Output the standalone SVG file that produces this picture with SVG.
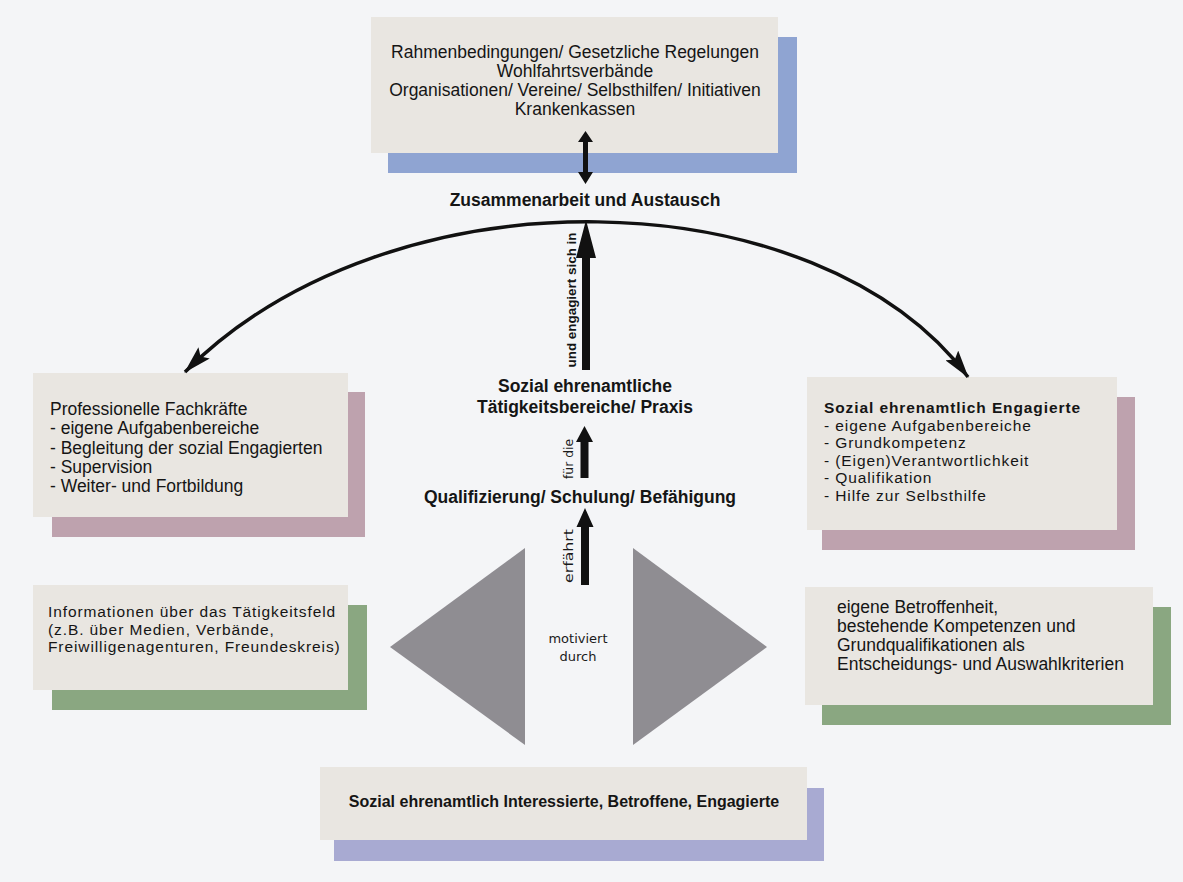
<svg xmlns="http://www.w3.org/2000/svg" width="1183" height="882" viewBox="0 0 1183 882">
<style>
.box{fill:#e9e6e1}
.t{font-family:"Liberation Sans",Arial,sans-serif;font-size:17.5px;fill:#151515}
.s{font-size:15.5px;letter-spacing:0.9px}
.b{font-weight:bold}
.c{text-anchor:middle}
.h{font-family:"DejaVu Sans","Liberation Sans",sans-serif;font-size:13px;fill:#1a1a1a}
.ar{fill:#111}
</style>
<defs>
<marker id="ah" viewBox="0 0 28 16" refX="27" refY="8" markerWidth="28" markerHeight="16" markerUnits="userSpaceOnUse" orient="auto-start-reverse">
<path d="M0,0 L28,8 L0,16 L5,8 Z" fill="#111"/>
</marker>
</defs>
<rect width="1183" height="882" fill="#f4f5f7"/>

<g id="top">
<rect x="388" y="37" width="409" height="136" fill="#8fa4d2"/>
<rect class="box" x="371" y="17" width="407" height="136"/>
<text class="t c" x="575" y="57.5">Rahmenbedingungen/ Gesetzliche Regelungen</text>
<text class="t c" x="575" y="76.5">Wohlfahrtsverbände</text>
<text class="t c" x="575" y="96">Organisationen/ Vereine/ Selbsthilfen/ Initiativen</text>
<text class="t c" x="575" y="115">Krankenkassen</text>
</g>

<g id="prof">
<rect x="52" y="392" width="313" height="145" fill="#bea2ae"/>
<rect class="box" x="33" y="373" width="315" height="144"/>
<text class="t" x="50" y="415">Professionelle Fachkräfte</text>
<text class="t" x="50" y="434.3">- eigene Aufgabenbereiche</text>
<text class="t" x="50" y="453.6">- Begleitung der sozial Engagierten</text>
<text class="t" x="50" y="473">- Supervision</text>
<text class="t" x="50" y="492.3">- Weiter- und Fortbildung</text>
</g>

<g id="engagierte">
<rect x="822" y="397" width="313" height="153" fill="#bea2ae"/>
<rect class="box" x="807" y="377" width="310" height="153"/>
<text class="t s b" x="824" y="413">Sozial ehrenamtlich Engagierte</text>
<text class="t s" x="824" y="430.5">- eigene Aufgabenbereiche</text>
<text class="t s" x="824" y="448">- Grundkompetenz</text>
<text class="t s" x="824" y="465.5">- (Eigen)Verantwortlichkeit</text>
<text class="t s" x="824" y="483">- Qualifikation</text>
<text class="t s" x="824" y="500.5">- Hilfe zur Selbsthilfe</text>
</g>

<g id="info">
<rect x="52" y="605" width="315" height="105" fill="#8aa781"/>
<rect class="box" x="33" y="585" width="315" height="105"/>
<text class="t s" x="48" y="617">Informationen über das Tätigkeitsfeld</text>
<text class="t s" x="48" y="634.5">(z.B. über Medien, Verbände,</text>
<text class="t s" x="48" y="652">Freiwilligenagenturen, Freundeskreis)</text>
</g>

<g id="betroffenheit">
<rect x="822" y="607" width="349" height="118" fill="#8aa781"/>
<rect class="box" x="805" y="587" width="348" height="118"/>
<text class="t" x="837" y="613">eigene Betroffenheit,</text>
<text class="t" x="837" y="632">bestehende Kompetenzen und</text>
<text class="t" x="837" y="651">Grundqualifikationen als</text>
<text class="t" x="837" y="670">Entscheidungs- und Auswahlkriterien</text>
</g>

<g id="bottom">
<rect x="334" y="788" width="490" height="73" fill="#a8aad2"/>
<rect class="box" x="320" y="767" width="487" height="73"/>
<text class="t b c" x="564" y="807" style="font-size:16px">Sozial ehrenamtlich Interessierte, Betroffene, Engagierte</text>
</g>

<g id="center-labels">
<text class="t b c" x="585" y="206">Zusammenarbeit und Austausch</text>
<text class="t b c" x="585" y="392">Sozial ehrenamtliche</text>
<text class="t b c" x="585" y="413">Tätigkeitsbereiche/ Praxis</text>
<text class="t b c" x="580" y="503">Qualifizierung/ Schulung/ Befähigung</text>
</g>

<g id="motiv">
<polygon points="390,647 525,548 525,745" fill="#8f8d92"/>
<polygon points="633,548 633,745 767,647" fill="#8f8d92"/>
<text class="h c" x="578" y="643">motiviert</text>
<text class="h c" x="578" y="661">durch</text>
</g>

<g id="connectors">
<path d="M185,372 C392,165 818,177 968,377" fill="none" stroke="#111" stroke-width="3.5" marker-start="url(#ah)" marker-end="url(#ah)"/>
<path class="ar" d="M585.5,131 L593,142 L588,142 L588,172 L593,172 L585.5,184 L578,172 L583,172 L583,142 L578,142 Z"/>
<path class="ar" d="M586,220 L596,258 L590,258 L590,370 L582,370 L582,258 L576,258 Z"/>
<path class="ar" d="M584.5,426 L593,442 L588.5,442 L588.5,478 L580.5,478 L580.5,442 L576,442 Z"/>
<path class="ar" d="M585,508 L593.5,527 L589,527 L589,585 L581,585 L581,527 L576.5,527 Z"/>
<text class="t b c" transform="translate(576,300) rotate(-90)" style="font-size:13px" textLength="135" lengthAdjust="spacingAndGlyphs">und engagiert sich in</text>
<text class="h c" transform="translate(573,459) rotate(-90)" textLength="40" lengthAdjust="spacingAndGlyphs">für die</text>
<text class="h c" transform="translate(573,556) rotate(-90)" textLength="54" lengthAdjust="spacingAndGlyphs">erfährt</text>
</g>
</svg>
